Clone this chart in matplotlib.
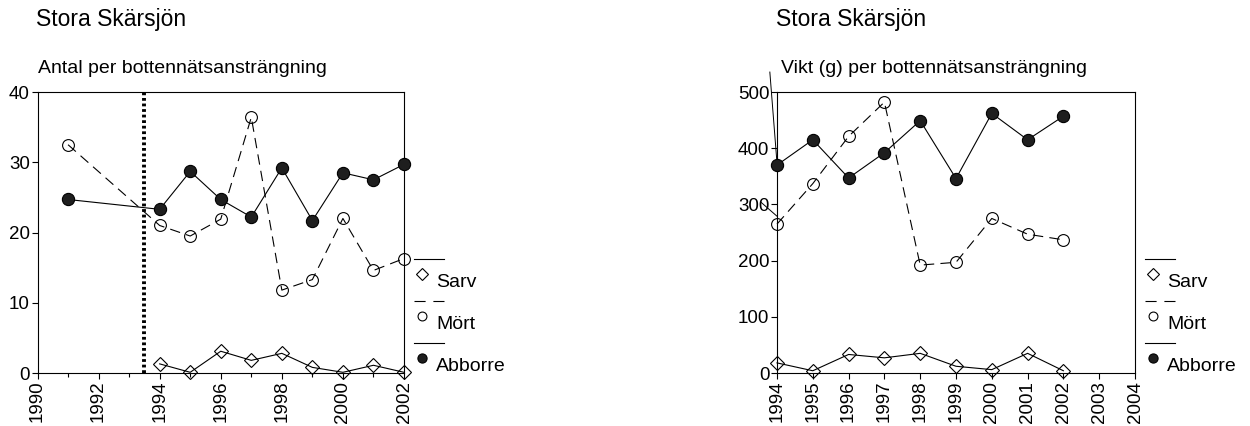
import matplotlib
matplotlib.use('Agg')
import matplotlib.pyplot as plt
from matplotlib import transforms
from matplotlib.ticker import MultipleLocator

plt.rcParams['font.family'] = ['Liberation Sans', 'DejaVu Sans']
plt.rcParams['lines.scale_dashes'] = False

lake = 'Stora Skärsjön'
species = ['Sarv', 'Mört', 'Abborre']

# antal per bottennätsansträngning
years_antal = [1991, 1994, 1995, 1996, 1997, 1998, 1999, 2000, 2001, 2002]
abborre_antal = [24.7, 23.3, 28.7, 24.7, 22.2, 29.2, 21.7, 28.5, 27.5, 29.7]
mort_antal = [32.5, 21.0, 19.5, 21.9, 36.4, 11.8, 13.3, 22.0, 14.6, 16.3]
years_sarv_antal = [1994, 1995, 1996, 1997, 1998, 1999, 2000, 2001, 2002]
sarv_antal = [1.3, 0.1, 3.1, 1.8, 2.8, 0.8, 0.1, 1.1, 0.1]
kalkning_year = 1993.5

# vikt (g) per bottennätsansträngning
years_vikt = [1994, 1995, 1996, 1997, 1998, 1999, 2000, 2001, 2002]
abborre_vikt = [370, 415, 347, 392, 449, 346, 462, 415, 457]
mort_vikt = [265, 337, 421, 482, 192, 197, 275, 247, 237]
sarv_vikt = [18, 4, 33, 27, 35, 12, 6, 35, 4]

DASH = (0, (7.5, 4.5))
styles = {
    'Sarv': dict(marker='D', ls='-', mfc='none', ms=7.5),
    'Mört': dict(marker='o', ls=DASH, mfc='none', ms=8.5),
    'Abborre': dict(marker='o', ls='-', mfc='#1e1e1e', ms=8.8),
}

fig = plt.figure(figsize=(12.5, 4.26), dpi=100)
ax1 = fig.add_axes([0.030, 0.1244, 0.2932, 0.6596])
ax2 = fig.add_axes([0.6216, 0.1244, 0.2864, 0.6596])


def draw(ax, name, x, y):
    st = styles[name]
    ax.plot(x, y, color='black', lw=0.8, ls=st['ls'], marker=st['marker'],
            ms=st['ms'], mfc=st['mfc'], mec='black', mew=0.8,
            clip_on=False, zorder=3 if name == 'Abborre' else 2)


def px(dx, dy, ax):
    # offset in pixels from the lower right corner of the axes
    return transforms.offset_copy(ax.transAxes, fig=fig, x=dx / 100,
                                  y=dy / 100, units='inches')


def seg_legend(ax):
    w = ax.get_position().width * fig.get_figwidth() * fig.dpi
    for i, name in enumerate(species):
        st = styles[name]
        step = 42 * i
        ax.plot([1 + 10 / w, 1 + 40 / w], [0, 0], color='black', lw=0.8,
                ls=(0, (8, 5.6)) if st['ls'] == DASH else '-',
                clip_on=False, transform=px(0, 114 - step, ax))
        ax.plot([1], [0], marker=st['marker'], ms=st['ms'] * 0.75,
                mfc=st['mfc'], mec='black', mew=0.8, ls='none',
                clip_on=False, transform=px(18, 99 - step, ax))
        ax.text(1, 0, name, fontsize=14, va='baseline', ha='left',
                transform=px(32, 86 - step, ax))


def style_axes(ax):
    for sp in ax.spines.values():
        sp.set_linewidth(0.8)
    ax.tick_params(which='both', direction='out', width=0.8, labelsize=13.5)
    ax.tick_params(which='major', length=4.5, pad=1)
    ax.tick_params(which='minor', length=3)
    ax.tick_params(axis='x', labelrotation=90)


# left panel
draw(ax1, 'Mört', years_antal, mort_antal)
draw(ax1, 'Abborre', years_antal, abborre_antal)
draw(ax1, 'Sarv', years_sarv_antal, sarv_antal)
ax1.axvline(kalkning_year, color='black', lw=2.8, ls=(0, (2.0, 2.0)))
ax1.set_xlim(1990, 2002)
ax1.set_ylim(0, 40)
ax1.xaxis.set_major_locator(MultipleLocator(2))
ax1.xaxis.set_minor_locator(MultipleLocator(1))
ax1.yaxis.set_major_locator(MultipleLocator(10))
style_axes(ax1)

# right panel
draw(ax2, 'Mört', years_vikt, mort_vikt)
draw(ax2, 'Abborre', years_vikt, abborre_vikt)
draw(ax2, 'Sarv', years_vikt, sarv_vikt)
ax2.set_xlim(1994, 2004)
ax2.set_ylim(0, 500)
ax2.xaxis.set_major_locator(MultipleLocator(1))
ax2.yaxis.set_major_locator(MultipleLocator(100))
style_axes(ax2)
# stray strokes left of the y axis in the original
ax2.plot([-0.02, 0], [1.071, 0.747], color='black', lw=0.7,
         transform=ax2.transAxes, clip_on=False)
ax2.plot([-0.045, 0], [0.608, 0.558], color='black', lw=0.7,
         transform=ax2.transAxes, clip_on=False)

for ax in (ax1, ax2):
    seg_legend(ax)

fig.text(0.0290, 0.939, lake, fontsize=16.5, va='baseline')
fig.text(0.0304, 0.829, 'Antal per bottennätsansträngning', fontsize=14,
         va='baseline')
fig.text(0.6210, 0.939, lake, fontsize=16.5, va='baseline')
fig.text(0.6248, 0.829, 'Vikt (g) per bottennätsansträngning', fontsize=14,
         va='baseline')

fig.savefig('out.png', dpi=100)
